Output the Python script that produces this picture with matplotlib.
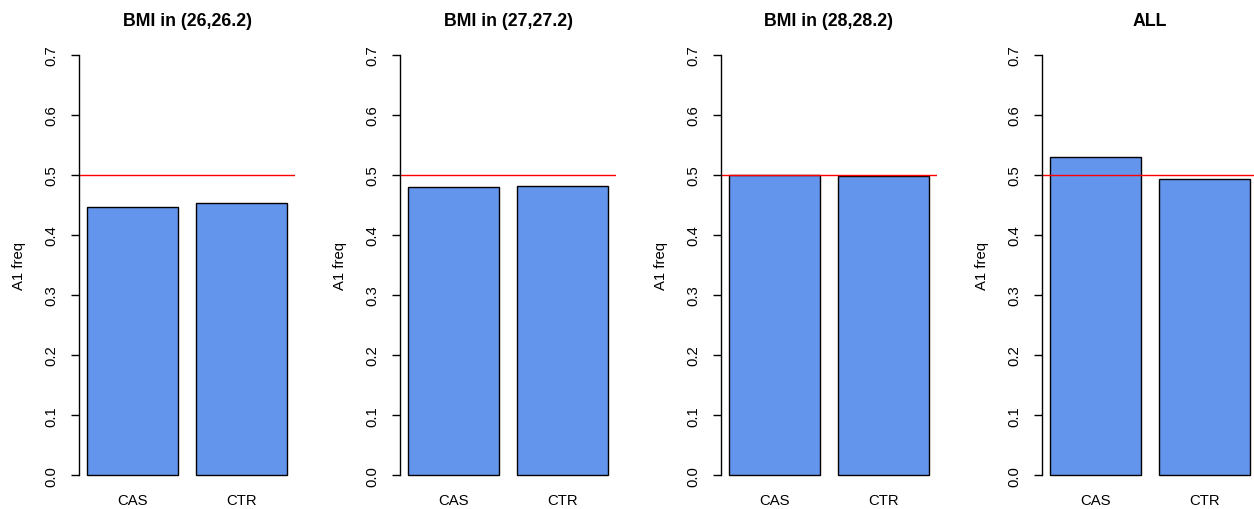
import matplotlib
matplotlib.use("Agg")
import matplotlib.pyplot as plt

plt.rcParams['font.family'] = ['Liberation Sans', 'DejaVu Sans']

titles = ["BMI in (26,26.2)", "BMI in (27,27.2)", "BMI in (28,28.2)", "ALL"]
groups = ["CAS", "CTR"]
cas_freq = [0.446, 0.480, 0.4995, 0.530]
ctr_freq = [0.453, 0.482, 0.499, 0.494]
yticks = [0.0, 0.1, 0.2, 0.3, 0.4, 0.5, 0.6, 0.7]

W, H = 1254, 510
fig = plt.figure(figsize=(W / 100, H / 100), dpi=100)

# R barplot geometry: bar width 1, space 0.2, xlim padded 4%
xpos = [0.7, 1.9]
xlim = (0.112, 2.488)
ylim = (-0.028, 0.728)

for i in range(4):
    left = 79 + 321 * i
    ax = fig.add_axes([left / W, (H - 493) / H, 216 / W, 454 / H])
    ax.bar(xpos, [cas_freq[i], ctr_freq[i]], width=1.0, color="#6495ED",
           edgecolor="black", linewidth=1.0)
    ax.axhline(0.5, color="red", linewidth=1.0)
    ax.set_xlim(*xlim)
    ax.set_ylim(*ylim)
    for s in ["top", "right", "bottom"]:
        ax.spines[s].set_visible(False)
    ax.spines["left"].set_bounds(0, 0.7)
    ax.spines["left"].set_linewidth(1.0)
    ax.set_yticks(yticks)
    ax.set_yticklabels([f"{t:.1f}" for t in yticks], rotation=90, va="center", fontsize=10.7)
    ax.tick_params(axis="y", length=6, width=1.0, pad=9)
    ax.set_xticks(xpos)
    ax.set_xticklabels(groups, fontsize=10.7)
    ax.tick_params(axis="x", length=0, pad=1)
    ax.set_ylabel("A1 freq", fontsize=10.7, labelpad=13)
    ax.set_title(titles[i], fontsize=12.8, fontweight="bold", pad=9)

fig.savefig("out.png", dpi=100)
